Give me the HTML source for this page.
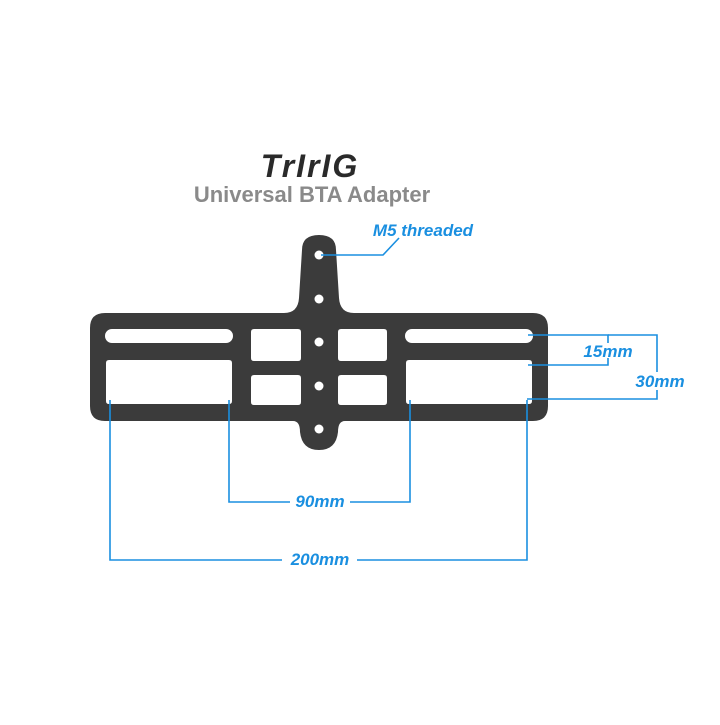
<!DOCTYPE html>
<html><head><style>
body{margin:0;background:#fff;width:720px;height:720px;overflow:hidden}
</style></head><body>
<svg width="720" height="720" viewBox="0 0 720 720" xmlns="http://www.w3.org/2000/svg">
<rect width="720" height="720" fill="#fff"/>
<text x="310" y="177" text-anchor="middle" font-family="Liberation Sans, sans-serif" font-weight="bold" font-style="italic" font-size="32" fill="#2a2a2a" letter-spacing="2">TrIrIG</text>
<text x="312" y="202" text-anchor="middle" font-family="Liberation Sans, sans-serif" font-weight="bold" font-size="22" fill="#8a8a8a">Universal BTA Adapter</text>
<path fill-rule="evenodd" fill="#3b3b3b" d="
M105 313 H284 Q298 313 299 298 L302 250 Q302 235 319 235 Q336 235 336 250 L339 298 Q340 313 354 313 H533 Q548 313 548 328 V406 Q548 421 533 421 H345 Q338 421 338 432 Q336 450 319 450 Q302 450 300 432 Q300 421 293 421 H105 Q90 421 90 406 V328 Q90 313 105 313 Z
M112 329 H226 A7 7 0 0 1 226 343 H112 A7 7 0 0 1 112 329 Z
M412 329 H526 A7 7 0 0 1 526 343 H412 A7 7 0 0 1 412 329 Z
M109 360 H229 Q232 360 232 363 V401 Q232 404 229 404 H109 Q106 404 106 401 V363 Q106 360 109 360 Z
M409 360 H529 Q532 360 532 363 V401 Q532 404 529 404 H409 Q406 404 406 401 V363 Q406 360 409 360 Z
M254 329 H298 Q301 329 301 332 V358 Q301 361 298 361 H254 Q251 361 251 358 V332 Q251 329 254 329 Z
M341 329 H384 Q387 329 387 332 V358 Q387 361 384 361 H341 Q338 361 338 358 V332 Q338 329 341 329 Z
M254 375 H298 Q301 375 301 378 V402 Q301 405 298 405 H254 Q251 405 251 402 V378 Q251 375 254 375 Z
M341 375 H384 Q387 375 387 378 V402 Q387 405 384 405 H341 Q338 405 338 402 V378 Q338 375 341 375 Z"/>
<g fill="#fff">
<circle cx="319" cy="255" r="4.5"/><circle cx="319" cy="299" r="4.5"/><circle cx="319" cy="342" r="4.5"/><circle cx="319" cy="386" r="4.5"/><circle cx="319" cy="429" r="4.5"/>
</g>
<g stroke="#1a8fe0" stroke-width="1.6" fill="none">
<polyline points="321,255 383,255 399,238"/>
<polyline points="229,400 229,502 290,502"/><polyline points="350,502 410,502 410,400"/>
<polyline points="110,400 110,560 282,560"/><polyline points="357,560 527,560 527,400"/>
<polyline points="528,335 608,335 608,343"/><polyline points="608,358 608,365 528,365"/>
<polyline points="608,335 657,335 657,372"/><polyline points="657,390 657,399 527,399"/>
</g>
<g font-family="Liberation Sans, sans-serif" font-weight="bold" font-style="italic" fill="#1a8fe0" font-size="17">
<text x="423" y="236" text-anchor="middle">M5 threaded</text>
<text x="320" y="507" text-anchor="middle">90mm</text>
<text x="320" y="565" text-anchor="middle">200mm</text>
<text x="608" y="357" text-anchor="middle">15mm</text>
<text x="660" y="387" text-anchor="middle">30mm</text>
</g>
</svg>
</body></html>
